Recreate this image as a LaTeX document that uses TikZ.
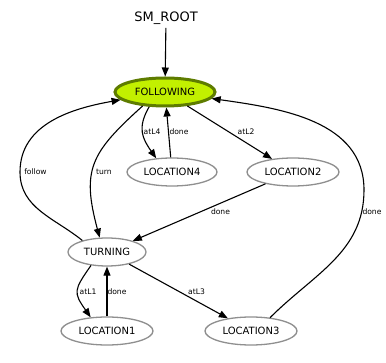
\documentclass[tikz,border=0pt]{standalone}
\usepackage{fontspec}
\setmainfont{DejaVu Sans}
\usetikzlibrary{arrows.meta}
\usetikzlibrary{shapes.geometric}
\definecolor{activefill}{HTML}{C2F000}
\definecolor{activeline}{HTML}{5E7C00}
\definecolor{stateline}{gray}{0.56}

\begin{document}
\begin{tikzpicture}[
    x=1pt, y=-1pt,
    statenode/.style={shape=ellipse, draw=stateline, line width=1.3, fill=white, minimum height=28, inner sep=0, font=\fontsize{10}{12}\selectfont},
    activenode/.style={shape=ellipse, draw=activeline, line width=3, fill=activefill, minimum height=28, inner sep=0, font=\fontsize{10}{12}\selectfont},
    edgelabel/.style={font=\fontsize{7.6}{9}\selectfont, inner sep=0},
    trans/.style={-{Stealth[length=9, width=7, inset=0]}, line width=1.1}
]
\useasboundingbox (0,0) rectangle (386,363);

% Coordinates
\coordinate (follow_bend) at (20,172);
\coordinate (done3_bend) at (364,190);

% States
\node (sm_root) at (166,18) {\fontsize{13}{15}\selectfont SM\_ROOT};
\node[activenode, minimum width=100] (following) at (165,92) {FOLLOWING};
\node[statenode, minimum width=90] (location4) at (172,172) {LOCATION4};
\node[statenode, minimum width=92] (location2) at (293,172) {LOCATION2};
\node[statenode, minimum width=78] (turning) at (107,252) {TURNING};
\node[statenode, minimum width=92] (location1) at (107,331) {LOCATION1};
\node[statenode, minimum width=92] (location3) at (251,331) {LOCATION3};

% Arrows
\draw[trans] (sm_root) -- (following);
\draw[trans] (following.223) to [out=240, in=125, looseness=1.2] (location4.139);
\draw[trans] (location4) -- (following);
\draw[trans] (following) -- (location2);
\draw[trans] (location2) -- (turning);
\draw[trans] (following.212) to [out=222, in=105, looseness=1.3] (turning.117);
\draw[trans] (turning.155) to [out=141, in=270] (follow_bend) to [out=90, in=190] (following.190);
\draw[trans] (turning.220) to [out=235, in=125, looseness=1.5] (location1.140);
\draw[trans] (location1) -- (turning);
\draw[trans] (turning) -- (location3);
\draw[trans] (location3.35) to [out=45, in=270] (done3_bend) to [out=90, in=-8] (following.-8);

% Labels
\node[edgelabel] (lbl_atl4) at (152,132) {atL4};
\node[edgelabel] (lbl_done4) at (179,132) {done};
\node[edgelabel] (lbl_atl2) at (246,132) {atL2};
\node[edgelabel] (lbl_follow) at (35.5,172) {follow};
\node[edgelabel] (lbl_turn) at (104,172) {turn};
\node[edgelabel] (lbl_done2) at (220.5,212) {done};
\node[edgelabel] (lbl_done3) at (372,212) {done};
\node[edgelabel] (lbl_atl1) at (88,292) {atL1};
\node[edgelabel] (lbl_done1) at (117,292) {done};
\node[edgelabel] (lbl_atl3) at (196.5,292) {atL3};

\end{tikzpicture}
\end{document}
